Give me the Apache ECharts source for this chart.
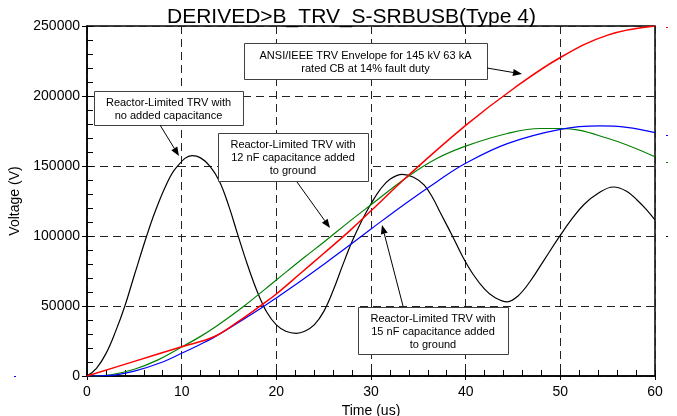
<!DOCTYPE html>
<html>
<head>
<meta charset="utf-8">
<script src="https://cdn.jsdelivr.net/npm/echarts@6/dist/echarts.min.js"></script>
<style>
html, body { margin: 0; padding: 0; background: #fff; }
#chart { width: 677px; height: 416px; }
</style>
</head>
<body>
<div id="chart"></div>
<script>
// [time (us), voltage (V)]
var envelope = [[0, 0], [5, 10450], [10, 20900], [13.4, 28000], [16, 39000], [18.5, 51000], [20, 58600],
  [22.5, 73000], [25, 87500], [27.8, 104000], [30, 118000], [34, 143600], [40, 179000],
  [45, 205000], [50, 227500], [55, 243500], [60, 250000]];
var cap12nF = [[0, 0], [2.5, 900], [5, 4800], [7.5, 11500], [10, 20700], [12, 28300], [13.7, 35700], [16.6, 50000],
  [20, 68600], [23, 85000], [25, 95500], [27.8, 110800], [30, 122300], [33.8, 142000], [37, 155500],
  [40, 164200], [44.4, 173200], [47.9, 176800], [50, 176800], [54.9, 170000], [60, 156600]];
var cap15nF = [[0, 0], [2.5, 500], [5, 3500], [8, 10000], [10, 16200], [12, 22700], [13.4, 27600], [16, 38300],
  [18.5, 49000], [20, 55800], [22.5, 67500], [25, 79700], [26.8, 88700], [30, 105000], [33.8, 124000],
  [37, 139000], [40, 151900], [44.4, 166000], [50, 176200], [54.2, 178600], [57, 177600], [60, 173800]];
var noCap = [[0, 0], [1, 5500], [2, 16000], [3, 31500], [4, 50000], [5, 72000], [6.3, 100000], [7.2, 117500],
  [8.4, 137000], [9.45, 149000], [11.1, 157400], [12, 155800], [13, 149800], [14, 139000], [15, 121000],
  [15.9, 101500], [16.95, 79500], [18, 60000], [19, 45500], [20, 36500], [21, 32000], [22.1, 30500],
  [23, 32000], [24, 36500], [25, 46000], [26, 61000], [27, 79000], [28, 96000], [29, 110500], [30, 123000],
  [31, 133500], [32, 140500], [33.3, 144000], [34.5, 142000], [35.6, 136500], [36.5, 127500], [37.3, 117000],
  [38.6, 100000], [39.7, 85000], [40.8, 72500], [42, 62000], [43, 56400], [44.4, 53000], [45.5, 57000],
  [46.8, 67500], [48.3, 83000], [49.9, 99500], [51.2, 112000], [52.5, 122500], [54, 130500], [55.6, 135000],
  [57, 132000], [58.1, 125700], [59, 119500], [60, 111500]];

var font = '"Liberation Sans", Arial, sans-serif';

// annotation boxes [x, y, w, h, text]
var notes = [
  [94, 91, 149, 34, 'Reactor-Limited TRV with\nno added capacitance'],
  [244, 43, 243, 36, 'ANSI/IEEE TRV Envelope for 145 kV 63 kA\nrated CB at 14% fault duty'],
  [218, 133, 150, 48, 'Reactor-Limited TRV with\n12 nF capacitance added\nto ground'],
  [358, 307, 150, 47, 'Reactor-Limited TRV with\n15 nF capacitance added\nto ground']
];
// arrows [x1, y1, x2 (tip), y2 (tip)]
var arrows = [
  [160, 125, 179, 156],
  [487, 68, 522, 74],
  [297, 182, 330, 228],
  [403, 306, 382, 225]
];

function buildGraphics() {
  var g = [];
  notes.forEach(function (n) {
    g.push({
      type: 'rect', z: 100,
      shape: { x: n[0] + 0.5, y: n[1] + 0.5, width: n[2], height: n[3] },
      style: { fill: '#fff', stroke: '#404040', lineWidth: 1 }
    });
    g.push({
      type: 'text', z: 101,
      style: {
        text: n[4], x: n[0] + n[2] / 2, y: n[1] + n[3] / 2 + 1,
        align: 'center', verticalAlign: 'middle',
        fontSize: 11, fontFamily: font, lineHeight: 13, fill: '#000'
      }
    });
  });
  arrows.forEach(function (a) {
    var dx = a[2] - a[0], dy = a[3] - a[1];
    var len = Math.sqrt(dx * dx + dy * dy);
    var ux = dx / len, uy = dy / len;
    var hl = 9, hw = 3.5;
    var bx = a[2] - ux * hl, by = a[3] - uy * hl;
    g.push({
      type: 'line', z: 100,
      shape: { x1: a[0], y1: a[1], x2: bx, y2: by },
      style: { stroke: '#000', lineWidth: 1 }
    });
    g.push({
      type: 'polygon', z: 100,
      shape: { points: [[a[2], a[3]], [bx - uy * hw, by + ux * hw], [bx + uy * hw, by - ux * hw]] },
      style: { fill: '#000' }
    });
  });
  // small stray marks at the right edge
  [['#ff0000', 27], ['#0000ff', 135], ['#008000', 162], ['#000', 236]].forEach(function (d) {
    g.push({ type: 'rect', shape: { x: 666, y: d[1], width: 2, height: 1 }, style: { fill: d[0] } });
  });
  g.push({ type: 'rect', shape: { x: 14, y: 376, width: 2, height: 1 }, style: { fill: '#0000ff' } });
  return g;
}

var gridLine = { show: true, lineStyle: { type: [8, 5], color: '#222', width: 1 } };

function curve(name, data, color, width) {
  return {
    name: name, type: 'line', data: data, showSymbol: false, symbol: 'none',
    smooth: 0.4, xAxisIndex: 0, yAxisIndex: 0,
    lineStyle: { color: color, width: width }
  };
}

var myChart = echarts.init(document.getElementById('chart'));
var option = {
  animation: false,
  textStyle: { fontFamily: font },
  title: {
    text: 'DERIVED>B_TRV_S-SRBUSB(Type 4)',
    left: 162, top: 2,
    textStyle: { fontSize: 21, fontWeight: 'normal', color: '#000', fontFamily: font }
  },
  grid: {
    left: 87, right: 22, top: 26, bottom: 40, show: true, borderColor: '#000', borderWidth: 1.5,
    containLabel: false, outerBoundsMode: 'none'
  },
  xAxis: [{
    type: 'value', min: 0, max: 60, interval: 10,
    name: 'Time (us)', nameLocation: 'middle', nameGap: 26,
    nameTextStyle: { fontSize: 14, color: '#000', fontFamily: font },
    axisLine: { lineStyle: { color: '#000', width: 1.5 } },
    axisTick: { length: 4, lineStyle: { color: '#000' } },
    axisLabel: { fontSize: 14, color: '#000', margin: 9, fontFamily: font },
    splitLine: gridLine
  }, {
    type: 'value', min: 0, max: 60, interval: 2, position: 'bottom', offset: 0,
    axisLine: { show: false },
    axisTick: { inside: true, length: 6, lineStyle: { color: '#000' } },
    axisLabel: { show: false }, splitLine: { show: false }
  }],
  yAxis: [{
    type: 'value', min: 0, max: 250000, interval: 50000,
    name: 'Voltage (V)', nameLocation: 'middle', nameGap: 58,
    nameTextStyle: { fontSize: 14, color: '#000', fontFamily: font },
    axisLine: { show: true, lineStyle: { color: '#000', width: 1.5 } },
    axisTick: { show: true, length: 5, lineStyle: { color: '#000' } },
    axisLabel: {
      fontSize: 14, color: '#000', margin: 7, fontFamily: font,
      formatter: function (v) { return String(v); }
    },
    splitLine: gridLine
  }, {
    type: 'value', min: 0, max: 250000, interval: 10000, position: 'left', offset: 0,
    axisLine: { show: false },
    axisTick: { show: true, inside: true, length: 6, lineStyle: { color: '#000' } },
    axisLabel: { show: false }, splitLine: { show: false }
  }],
  series: [
    curve('No added capacitance', noCap, '#000', 1.2),
    curve('12 nF', cap12nF, '#008000', 1.2),
    curve('15 nF', cap15nF, '#0000ff', 1.2),
    curve('ANSI/IEEE envelope', envelope, '#ff0000', 1.5)
  ],
  graphic: buildGraphics()
};
myChart.setOption(option);
</script>
</body>
</html>
